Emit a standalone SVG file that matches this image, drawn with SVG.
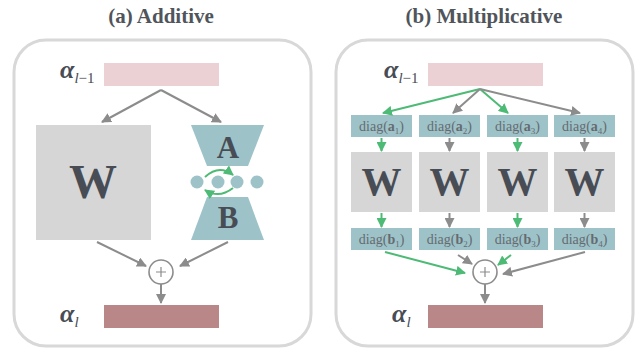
<svg xmlns="http://www.w3.org/2000/svg" width="638" height="348" viewBox="0 0 638 348">
<defs>
<marker id="ag" viewBox="0 0 10 10" refX="9" refY="5" markerWidth="5" markerHeight="5" orient="auto" markerUnits="strokeWidth"><path d="M0,0 L10,5 L0,10 z" fill="#8c8c8c"/></marker>
<marker id="an" viewBox="0 0 10 10" refX="9" refY="5" markerWidth="5" markerHeight="5" orient="auto" markerUnits="strokeWidth"><path d="M0,0 L10,5 L0,10 z" fill="#4dba75"/></marker>
</defs>
<style>
.panel{fill:#fff;stroke:#d8d8d8;stroke-width:3}
.title{font-weight:bold;font-size:21px;fill:#50555c;text-anchor:middle}
.pink{fill:#ecd1d4}
.dark{fill:#b98787}
.w{fill:#d6d6d6}
.teal{fill:#9dc3c9}
.big{font-weight:bold;fill:#484d55;text-anchor:middle}
.alpha{font-weight:bold;font-style:italic;font-size:26px;fill:#484d55}
.sub{font-size:15px;fill:#484d55}
.diag{font-size:14px;fill:#666a70;text-anchor:middle}
.g{stroke:#8c8c8c;stroke-width:2;fill:none;marker-end:url(#ag)}
.n{stroke:#4dba75;stroke-width:2;fill:none;marker-end:url(#an)}
.plus{fill:#fff;stroke:#8c8c8c;stroke-width:1.6}
.pl{stroke:#8c8c8c;stroke-width:1.2}
</style>
<g font-family="'Liberation Serif','DejaVu Serif',serif">
<text class="title" x="161" y="23">(a) Additive</text>
<text class="title" x="484" y="23">(b) Multiplicative</text>
<rect class="panel" x="14" y="40" width="297" height="306" rx="32"/>
<rect class="panel" x="336" y="40" width="297" height="306" rx="32"/>

<g id="a-input">
<text class="alpha" x="60" y="78">α<tspan class="sub" font-weight="normal" dy="5"><tspan font-style="italic">l</tspan><tspan font-style="normal">−1</tspan></tspan></text>
<rect class="pink" x="104" y="63" width="115" height="23"/>
</g>
<g id="a-W">
<rect class="w" x="36" y="125" width="115" height="115"/>
<text class="big" x="93" y="198" font-size="48">W</text>
</g>
<g id="a-A">
<polygon class="teal" points="191,125 264,125 248,166 207,166"/>
<text class="big" x="228" y="158" font-size="31">A</text>
</g>
<g id="a-B">
<polygon class="teal" points="207,197 248,197 264,240 191,240"/>
<text class="big" x="228" y="228" font-size="31">B</text>
</g>
<g id="a-dots">
<circle class="teal" cx="197" cy="182" r="6.5"/>
<circle class="teal" cx="218" cy="182" r="6.5"/>
<circle class="teal" cx="237" cy="182" r="6.5"/>
<circle class="teal" cx="257" cy="182" r="6.5"/>
</g>
<g id="a-plus">
<circle class="plus" cx="161" cy="272" r="12"/>
<path class="pl" d="M156,272 H166 M161,267 V277"/>
</g>
<g id="a-output">
<text class="alpha" x="60" y="322">α<tspan class="sub" font-weight="normal" font-style="italic" dy="5">l</tspan></text>
<rect class="dark" x="104" y="305" width="115" height="23"/>
</g>
<g id="a-connectors">
<path class="g" d="M161,90 L102,122"/>
<path class="g" d="M161,90 L221,122"/>
<path class="g" d="M97,242 L146,266"/>
<path class="g" d="M228,242 L180,266"/>
<path class="g" d="M161,284 V303"/>
<path class="n" d="M205,177 Q219,164 233,175"/>
<path class="n" d="M233,188 Q219,199 205,190"/>
</g>

<g id="b-input">
<text class="alpha" x="384" y="78">α<tspan class="sub" font-weight="normal" dy="5"><tspan font-style="italic">l</tspan><tspan font-style="normal">−1</tspan></tspan></text>
<rect class="pink" x="428" y="63" width="115" height="23"/>
</g>
<g id="b-a1"><rect class="teal" x="351" y="115" width="61" height="22"/><text class="diag" x="381.5" y="131">diag(<tspan font-weight="bold">a</tspan><tspan font-size="9" dy="3">1</tspan><tspan dy="-3">)</tspan></text></g>
<g id="b-a2"><rect class="teal" x="419" y="115" width="61" height="22"/><text class="diag" x="449.5" y="131">diag(<tspan font-weight="bold">a</tspan><tspan font-size="9" dy="3">2</tspan><tspan dy="-3">)</tspan></text></g>
<g id="b-a3"><rect class="teal" x="487" y="115" width="61" height="22"/><text class="diag" x="517.5" y="131">diag(<tspan font-weight="bold">a</tspan><tspan font-size="9" dy="3">3</tspan><tspan dy="-3">)</tspan></text></g>
<g id="b-a4"><rect class="teal" x="554" y="115" width="61" height="22"/><text class="diag" x="584.5" y="131">diag(<tspan font-weight="bold">a</tspan><tspan font-size="9" dy="3">4</tspan><tspan dy="-3">)</tspan></text></g>
<g id="b-W1"><rect class="w" x="351" y="152" width="61" height="60"/><text class="big" x="381.5" y="195" font-size="40">W</text></g>
<g id="b-W2"><rect class="w" x="419" y="152" width="61" height="60"/><text class="big" x="449.5" y="195" font-size="40">W</text></g>
<g id="b-W3"><rect class="w" x="487" y="152" width="61" height="60"/><text class="big" x="517.5" y="195" font-size="40">W</text></g>
<g id="b-W4"><rect class="w" x="554" y="152" width="61" height="60"/><text class="big" x="584.5" y="195" font-size="40">W</text></g>
<g id="b-b1"><rect class="teal" x="351" y="228" width="61" height="22"/><text class="diag" x="381.5" y="244">diag(<tspan font-weight="bold">b</tspan><tspan font-size="9" dy="3">1</tspan><tspan dy="-3">)</tspan></text></g>
<g id="b-b2"><rect class="teal" x="419" y="228" width="61" height="22"/><text class="diag" x="449.5" y="244">diag(<tspan font-weight="bold">b</tspan><tspan font-size="9" dy="3">2</tspan><tspan dy="-3">)</tspan></text></g>
<g id="b-b3"><rect class="teal" x="487" y="228" width="61" height="22"/><text class="diag" x="517.5" y="244">diag(<tspan font-weight="bold">b</tspan><tspan font-size="9" dy="3">3</tspan><tspan dy="-3">)</tspan></text></g>
<g id="b-b4"><rect class="teal" x="554" y="228" width="61" height="22"/><text class="diag" x="584.5" y="244">diag(<tspan font-weight="bold">b</tspan><tspan font-size="9" dy="3">4</tspan><tspan dy="-3">)</tspan></text></g>
<g id="b-plus">
<circle class="plus" cx="485" cy="272" r="12"/>
<path class="pl" d="M480,272 H490 M485,267 V277"/>
</g>
<g id="b-output">
<text class="alpha" x="392" y="322">α<tspan class="sub" font-weight="normal" font-style="italic" dy="5">l</tspan></text>
<rect class="dark" x="428" y="305" width="115" height="23"/>
</g>
<g id="b-connectors">
<path class="n" d="M480,89 L383,113"/>
<path class="g" d="M480,89 L453,113"/>
<path class="n" d="M480,89 L508,113"/>
<path class="g" d="M480,89 L580,113"/>
<path class="n" d="M381.5,138 V151"/>
<path class="g" d="M449.5,138 V151"/>
<path class="n" d="M517.5,138 V151"/>
<path class="g" d="M584.5,138 V151"/>
<path class="n" d="M381.5,213 V227"/>
<path class="g" d="M449.5,213 V227"/>
<path class="n" d="M517.5,213 V227"/>
<path class="g" d="M584.5,213 V227"/>
<path class="n" d="M385,252 L465,273"/>
<path class="g" d="M458,255 L472,264"/>
<path class="n" d="M511,255 L498,265"/>
<path class="g" d="M585,252 L503,274"/>
<path class="g" d="M485,284 V303"/>
</g>
</g>
</svg>
